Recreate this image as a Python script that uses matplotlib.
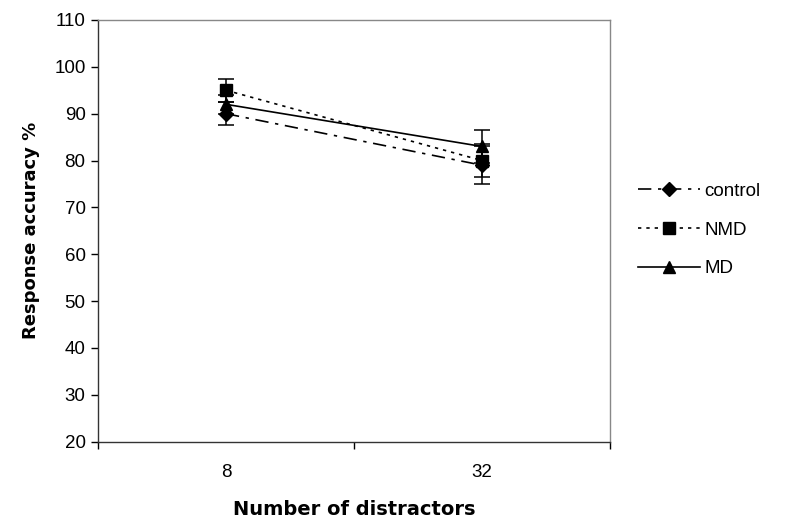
import matplotlib
matplotlib.use("Agg")
import matplotlib.pyplot as plt
from matplotlib.lines import Line2D
from matplotlib.ticker import FixedLocator, NullFormatter, FixedFormatter

plt.rcParams['font.family'] = ['Liberation Sans', 'DejaVu Sans']

categories = ["8", "32"]
control = [90, 79]
control_err = [2.5, 4.0]
nmd = [95, 80]
nmd_err = [2.5, 3.5]
md = [92, 83]
md_err = [2.0, 3.5]

fig = plt.figure(figsize=(7.94, 5.27), dpi=100)
ax = fig.add_axes([98/794, 1-441.6/527, (610-98)/794, (441.6-20)/527])

x = list(range(len(categories)))
styles = [
    ('control', control, control_err, 'D', 7, (0, (8, 4, 2, 4))),
    ('NMD', nmd, nmd_err, 's', 8, (0, (2, 3))),
    ('MD', md, md_err, '^', 8, '-'),
]
handles = []
for label, vals, err, mk, ms, ls in styles:
    ax.errorbar(x, vals, yerr=err, marker=mk, markersize=ms, linestyle=ls,
                color='black', ecolor='black', elinewidth=1.1, capsize=6,
                capthick=1.1, linewidth=1.2, clip_on=False)
    handles.append(Line2D([], [], color='black', marker=mk, markersize=ms,
                          linestyle=ls, linewidth=1.2, label=label))

ax.set_xlim(-0.5, len(categories) - 0.5)
ax.set_ylim(20, 110)
ax.set_yticks(range(20, 111, 10))
ax.xaxis.set_major_locator(FixedLocator([-0.5, 0.5, 1.5]))
ax.xaxis.set_major_formatter(NullFormatter())
ax.xaxis.set_minor_locator(FixedLocator(x))
ax.xaxis.set_minor_formatter(FixedFormatter(categories))
ax.tick_params(axis='x', which='minor', length=0, labelsize=13.5, pad=16)
ax.tick_params(axis='x', which='major', length=5, width=1, direction='out')
ax.tick_params(axis='y', length=5, width=1, direction='out', labelsize=13.5, pad=4)

for s in ['left', 'bottom']:
    ax.spines[s].set_color('#333333')
    ax.spines[s].set_linewidth(1.0)
for s in ['top', 'right']:
    ax.spines[s].set_color('#888888')
    ax.spines[s].set_linewidth(1.0)

ax.set_xlabel('Number of distractors', fontsize=14, fontweight='bold',
              family=['DejaVu Sans'], labelpad=14)
ax.set_ylabel('Response accuracy %', fontsize=13, fontweight='bold',
              family=['DejaVu Sans'], labelpad=10)

fig.legend(handles=handles, loc='center left', bbox_to_anchor=(621/794, 1-230/527),
           frameon=False, fontsize=13.5, handlelength=3.3,
           labelspacing=1.15, handletextpad=0.25)

fig.savefig('out.png', dpi=100)
